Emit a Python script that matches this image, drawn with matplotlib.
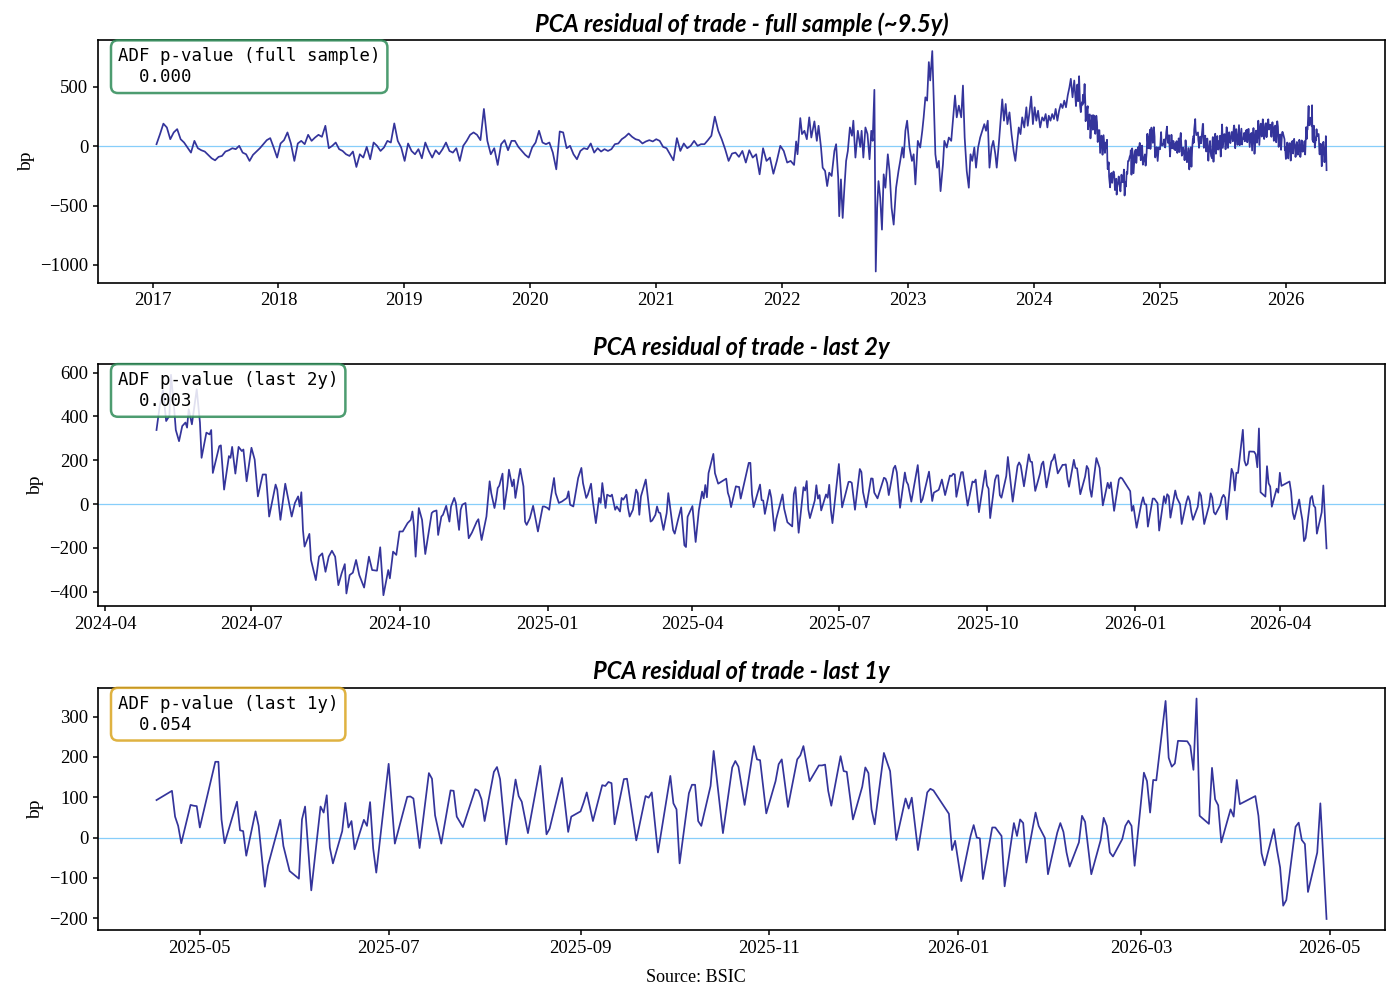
import numpy as np
import pandas as pd
import matplotlib
matplotlib.use("Agg")
import matplotlib.pyplot as plt
import matplotlib.dates as mdates

# ---------------- data (bp) ----------------

# 2017-01 .. 2022-01, one reading every 10 days
early_start = "2017-01-12"
early_vals = [
    17, 100, 190, 158, 59, 116, 144, 59, 31, -11,
    -54, 45, -17, -34, -45, -73, -102, -119, -90, -82,
    -45, -34, -17, -25, 3, -54, -68, -124, -73, -45,
    -17, 17, 51, 68, -11, -96, 23, 51, 116, 23,
    -124, 23, 45, 17, 96, 45, 73, 96, 79, 172,
    -17, 3, 31, -25, -40, -68, -82, -45, -175, -68,
    -96, -6, -110, 31, 3, -40, -11, 45, 31, 192,
    45, -11, -124, 23, -40, -68, -25, -102, 31, -40,
    -96, -34, -68, -25, 31, -40, -54, -17, -124, 3,
    45, 96,
    116, 96, 51, 314, 45, -68, -17, -158, 17, 51,
    -34, 45, 45, -6, -40, -73, -96, -11, 31, 130,
    31, 17, 31, -54, -195, 124, 116, -17, 3, -68,
    -110, -40, -17, -25, 23, -54, -17, -45, -25, -40,
    -25, 17, 23, 59, 79, 107, 79, 59, 51, 23,
    40, 51, 40, 59, 45, -6, -17, -68, -119, 68,
    -40, 23, -17, 3, 45, 3, 17, 17, 51, 88,
    249, 130, 59, -25, -124, -62, -54, -90, -40, -138,
    -34, -96, -68, -237, -17, -124, -96, -232, -124, 3,
    -40, -138,
]

# 2022-01 .. 2024-04, turning points
mid_dates = [
    "2022-01-26", "2022-02-05", "2022-02-11", "2022-02-15", "2022-02-23", "2022-02-28",
    "2022-03-07", "2022-03-14", "2022-03-21", "2022-03-27", "2022-04-05", "2022-04-12",
    "2022-04-17", "2022-04-24", "2022-04-29", "2022-05-06", "2022-05-12", "2022-05-18",
    "2022-05-25", "2022-06-02", "2022-06-07", "2022-06-13", "2022-06-16", "2022-06-21",
    "2022-06-26", "2022-07-01", "2022-07-06", "2022-07-11", "2022-07-17", "2022-07-23",
    "2022-07-27", "2022-08-02", "2022-08-09", "2022-08-16", "2022-08-20", "2022-08-25",
    "2022-08-31", "2022-09-06", "2022-09-12", "2022-09-17", "2022-09-21", "2022-09-26",
    "2022-09-30", "2022-10-04", "2022-10-08", "2022-10-13", "2022-10-18", "2022-10-23",
    "2022-10-28", "2022-11-04", "2022-11-09", "2022-11-15", "2022-11-21", "2022-11-28",
    "2022-12-05", "2022-12-10", "2022-12-16", "2022-12-20", "2022-12-25", "2022-12-30",
    "2023-01-06", "2023-01-13", "2023-01-18", "2023-01-23", "2023-01-30", "2023-02-06",
    "2023-02-12", "2023-02-16", "2023-02-21", "2023-02-26", "2023-03-03", "2023-03-07",
    "2023-03-13", "2023-03-17", "2023-03-22", "2023-03-27", "2023-04-01", "2023-04-06",
    "2023-04-13", "2023-04-17", "2023-04-24", "2023-04-30", "2023-05-07", "2023-05-12",
    "2023-05-18", "2023-05-23", "2023-05-29", "2023-06-05", "2023-06-10", "2023-06-15",
    "2023-06-21", "2023-06-27", "2023-07-02", "2023-07-07", "2023-07-13", "2023-07-18",
    "2023-07-24", "2023-07-30", "2023-08-05", "2023-08-11", "2023-08-16", "2023-08-21",
    "2023-08-26", "2023-09-01", "2023-09-06", "2023-09-12", "2023-09-16", "2023-09-22",
    "2023-09-28", "2023-10-02", "2023-10-07", "2023-10-12", "2023-10-17", "2023-10-23",
    "2023-10-29", "2023-11-04", "2023-11-09", "2023-11-13", "2023-11-19", "2023-11-24",
    "2023-11-29", "2023-12-05", "2023-12-11", "2023-12-15", "2023-12-20", "2023-12-25",
    "2023-12-30", "2024-01-04", "2024-01-09", "2024-01-14", "2024-01-20", "2024-01-26",
    "2024-01-31", "2024-02-05", "2024-02-10", "2024-02-14", "2024-02-19", "2024-02-24",
    "2024-02-29", "2024-03-05", "2024-03-10", "2024-03-15", "2024-03-20", "2024-03-25",
    "2024-03-30", "2024-04-04", "2024-04-09", "2024-04-14", "2024-04-18", "2024-04-23",
    "2024-04-28",
]
mid_vals = [
    -124, -158, 40, -68, 237, 102,
    130, 59, 243, 73, 209, 45,
    172, -6, -181, -209, -336, -223,
    -251, -40, 17, -266, -590, -280,
    -605, -350, -124, -40, 158, 88,
    215, -96, 130, -6, 130, -96,
    158, 102, -110, 130, 45, 475,
    -1056, -520, -294, -435, -703, -237,
    -350, -68, -209, -520, -661, -350,
    -209, -124, -11, -96, 130, 215,
    -11, -124, -68, -322, 45, -11,
    130, 243, 412, 384, 709, 554,
    802, 412, -68, -181, -124, -379,
    -153, 45, -11, 73, 45, 215,
    427, 243, 342, 243, 511, 73,
    -209, -350, -68, -124, -11, -181,
    -11, 73, 130, 186, 130, 215,
    -181, -11, 45, -68, -181, 17,
    243, 395, 215, 356, 186, 285,
    102, -40, -124, -11, 158, 102,
    243, 158, 328, 172, 285, 418,
    186, 328, 215, 299, 158, 243,
    215, 271, 158, 257, 215, 271,
    229, 314, 215, 299, 356, 322,
    384, 328, 427, 497, 568, 412,
    554,
]

# 2024-05 .. 2026-04, daily
recent_dates = [
    "2024-05-03", "2024-05-05", "2024-05-07", "2024-05-09", "2024-05-11", "2024-05-12",
    "2024-05-14", "2024-05-15", "2024-05-17", "2024-05-19", "2024-05-21", "2024-05-22",
    "2024-05-23", "2024-05-25", "2024-05-26", "2024-05-28", "2024-05-30", "2024-05-31",
    "2024-06-03", "2024-06-05", "2024-06-06", "2024-06-07", "2024-06-11", "2024-06-12",
    "2024-06-14", "2024-06-17", "2024-06-18", "2024-06-19", "2024-06-21", "2024-06-23",
    "2024-06-25", "2024-06-26", "2024-06-28", "2024-07-01", "2024-07-03", "2024-07-05",
    "2024-07-08", "2024-07-10", "2024-07-12", "2024-07-16", "2024-07-17", "2024-07-19",
    "2024-07-22", "2024-07-26", "2024-07-28", "2024-07-30", "2024-07-31", "2024-08-01",
    "2024-08-02", "2024-08-03", "2024-08-06", "2024-08-07", "2024-08-10", "2024-08-12",
    "2024-08-14", "2024-08-16", "2024-08-18", "2024-08-20", "2024-08-22", "2024-08-24",
    "2024-08-26", "2024-08-28", "2024-08-29", "2024-08-31", "2024-09-02", "2024-09-04",
    "2024-09-06", "2024-09-09", "2024-09-12", "2024-09-14", "2024-09-17", "2024-09-19",
    "2024-09-21", "2024-09-24", "2024-09-25", "2024-09-27", "2024-09-29", "2024-10-01",
    "2024-10-03", "2024-10-06", "2024-10-08", "2024-10-09", "2024-10-10", "2024-10-11",
    "2024-10-13", "2024-10-15", "2024-10-17", "2024-10-21", "2024-10-22", "2024-10-24",
    "2024-10-25", "2024-10-27", "2024-10-28", "2024-10-30", "2024-11-01", "2024-11-02",
    "2024-11-04", "2024-11-05", "2024-11-07", "2024-11-08", "2024-11-09", "2024-11-11",
    "2024-11-13", "2024-11-15", "2024-11-18", "2024-11-19", "2024-11-21", "2024-11-24",
    "2024-11-26", "2024-11-27", "2024-11-29", "2024-11-30", "2024-12-01", "2024-12-02",
    "2024-12-04", "2024-12-05", "2024-12-07", "2024-12-08", "2024-12-10", "2024-12-11",
    "2024-12-12", "2024-12-14", "2024-12-15", "2024-12-17", "2024-12-18", "2024-12-19",
    "2024-12-21", "2024-12-23", "2024-12-26", "2024-12-29", "2024-12-30", "2025-01-01",
    "2025-01-02", "2025-01-03", "2025-01-05", "2025-01-06", "2025-01-08", "2025-01-10",
    "2025-01-12", "2025-01-13", "2025-01-14", "2025-01-15", "2025-01-17", "2025-01-20",
    "2025-01-22", "2025-01-23", "2025-01-25", "2025-01-26", "2025-01-28", "2025-01-29",
    "2025-01-31", "2025-02-02", "2025-02-03", "2025-02-04", "2025-02-06", "2025-02-07",
    "2025-02-09", "2025-02-10", "2025-02-12", "2025-02-13", "2025-02-15", "2025-02-16",
    "2025-02-17", "2025-02-19", "2025-02-20", "2025-02-21", "2025-02-23", "2025-02-24",
    "2025-02-25", "2025-02-26", "2025-02-27", "2025-02-28", "2025-03-03", "2025-03-04",
    "2025-03-06", "2025-03-07", "2025-03-09", "2025-03-10", "2025-03-11", "2025-03-12",
    "2025-03-14", "2025-03-16", "2025-03-17", "2025-03-20", "2025-03-21", "2025-03-23",
    "2025-03-25", "2025-03-27", "2025-03-28", "2025-03-29", "2025-04-01", "2025-04-03",
    "2025-04-05", "2025-04-07", "2025-04-08", "2025-04-09", "2025-04-10", "2025-04-11",
    "2025-04-14", "2025-04-15",
    "2025-04-17", "2025-04-22", "2025-04-23", "2025-04-24", "2025-04-25", "2025-04-28",
    "2025-04-29", "2025-04-30", "2025-05-01", "2025-05-06", "2025-05-07", "2025-05-08",
    "2025-05-09", "2025-05-13", "2025-05-14", "2025-05-15", "2025-05-16", "2025-05-19",
    "2025-05-20", "2025-05-22", "2025-05-23", "2025-05-27", "2025-05-28", "2025-05-30",
    "2025-06-02", "2025-06-03", "2025-06-04", "2025-06-06", "2025-06-09", "2025-06-10",
    "2025-06-11", "2025-06-12", "2025-06-13", "2025-06-16", "2025-06-17", "2025-06-18",
    "2025-06-19", "2025-06-20", "2025-06-23", "2025-06-24", "2025-06-25", "2025-06-26",
    "2025-06-27", "2025-07-01", "2025-07-03", "2025-07-07", "2025-07-08", "2025-07-09",
    "2025-07-11", "2025-07-14", "2025-07-15", "2025-07-16", "2025-07-18", "2025-07-21",
    "2025-07-22", "2025-07-23", "2025-07-25", "2025-07-29", "2025-07-30", "2025-07-31",
    "2025-08-01", "2025-08-04", "2025-08-05", "2025-08-06", "2025-08-08", "2025-08-11",
    "2025-08-12", "2025-08-13", "2025-08-15", "2025-08-19", "2025-08-21", "2025-08-22",
    "2025-08-26", "2025-08-28", "2025-08-29", "2025-09-01", "2025-09-02", "2025-09-03",
    "2025-09-05", "2025-09-08", "2025-09-09", "2025-09-10", "2025-09-11", "2025-09-12",
    "2025-09-15", "2025-09-16", "2025-09-19", "2025-09-22", "2025-09-23", "2025-09-24",
    "2025-09-26", "2025-09-30", "2025-10-01", "2025-10-02", "2025-10-03", "2025-10-06",
    "2025-10-07", "2025-10-08", "2025-10-09", "2025-10-10", "2025-10-13", "2025-10-14",
    "2025-10-17", "2025-10-20", "2025-10-21", "2025-10-22", "2025-10-24", "2025-10-27",
    "2025-10-28", "2025-10-29", "2025-10-31", "2025-11-03", "2025-11-04", "2025-11-05",
    "2025-11-07", "2025-11-10", "2025-11-11", "2025-11-12", "2025-11-14", "2025-11-17",
    "2025-11-18", "2025-11-19", "2025-11-20", "2025-11-21", "2025-11-24", "2025-11-25",
    "2025-11-26", "2025-11-28", "2025-12-01", "2025-12-02", "2025-12-03", "2025-12-04",
    "2025-12-05", "2025-12-08", "2025-12-10", "2025-12-12", "2025-12-15", "2025-12-16",
    "2025-12-17", "2025-12-19", "2025-12-22", "2025-12-23", "2025-12-24", "2025-12-29",
    "2025-12-30", "2025-12-31", "2026-01-02", "2026-01-05", "2026-01-06", "2026-01-07",
    "2026-01-08", "2026-01-09", "2026-01-12", "2026-01-13", "2026-01-15", "2026-01-16",
    "2026-01-19", "2026-01-20", "2026-01-21", "2026-01-22", "2026-01-23", "2026-01-26",
    "2026-01-27", "2026-01-29", "2026-01-30", "2026-02-02", "2026-02-03", "2026-02-04",
    "2026-02-05", "2026-02-06", "2026-02-09", "2026-02-10", "2026-02-11", "2026-02-13",
    "2026-02-16", "2026-02-17", "2026-02-18", "2026-02-19", "2026-02-20", "2026-02-23",
    "2026-02-24", "2026-02-25", "2026-02-26", "2026-02-27", "2026-03-02", "2026-03-03",
    "2026-03-04", "2026-03-05", "2026-03-06", "2026-03-09", "2026-03-10", "2026-03-11",
    "2026-03-12", "2026-03-13", "2026-03-16", "2026-03-17", "2026-03-18", "2026-03-19",
    "2026-03-20", "2026-03-23", "2026-03-24", "2026-03-25", "2026-03-26", "2026-03-27",
    "2026-03-30", "2026-03-31", "2026-04-01", "2026-04-02", "2026-04-07", "2026-04-08",
    "2026-04-09", "2026-04-10", "2026-04-13", "2026-04-14", "2026-04-15", "2026-04-16",
    "2026-04-17", "2026-04-20", "2026-04-21", "2026-04-22", "2026-04-23", "2026-04-24",
    "2026-04-27", "2026-04-28", "2026-04-30",
]
recent_vals = [
    338, 448, 520, 379, 402, 590,
    433, 338, 287, 356, 372, 349,
    433, 364, 417, 524, 372, 211,
    326, 318, 338, 142, 264, 268,
    66, 219, 211, 261, 139, 261,
    242, 249, 104, 257, 203, 35,
    135, 135, -57, 89, 66, -72,
    93, -57, 5, 35, -11, 54,
    -118, -194, -136, -255, -347, -240,
    -225, -309, -240, -213, -240, -370,
    -317, -274, -408, -324, -313, -255,
    -324, -381, -240, -301, -304, -197,
    -416, -301, -339, -217, -232, -125,
    -125, -87, -72, -34, -102, -240,
    -18, -72, -228, -41, -34, -29,
    -141, -57, -49, -8, -80, -11,
    28, 5, -118, -26, -3, 5,
    -156, -130, -80, -69, -164, -57,
    104, 50, -18, 20, 73, 84,
    139, -23, 81, 157, 81, 112,
    28, 119, 161, 81, -80, -95,
    -64, -8, -125, -11, -11, -18,
    -26, 28, 119, 50, 5, 12,
    23, 28, 58, -3, -11, 119,
    165, 96, 28, 43, 93, 20,
    -87, 28, 5, 96, -18, 43,
    35, 43, -26, -11, -34, 28,
    20, 43, -18, -57, -26, 20,
    66, 50, -49, 35, 112, 50,
    -80, -75, -49, -11, -38, -41,
    -118, -41, 50, -119, -135, -73,
    -15, -188, -196, -58, -9, -173,
    -28, 57, 26, 87, 31, 141,
    229, 141,
    93, 116, 52, 29, -14, 81,
    79, 78, 25, 188, 188, 45,
    -14, 89, 18, 16, -45, 65,
    29, -122, -70, 44, -21, -83,
    -102, 45, 77, -131, 77, 62,
    105, -25, -64, 16, 86, 25,
    41, -29, 44, 29, 88, -27,
    -87, 183, -15, 101, 102, 97,
    -26, 160, 146, 55, -15, 117,
    116, 52, 26, 120, 116, 95,
    41, 163, 175, 145, -17, 144,
    103, 89, 11, 178, 8, 22,
    148, 14, 52, 65, 87, 112,
    41, 130, 128, 138, 135, 33,
    145, 146, -7, 103, 99, 112,
    -37, 153, 85, 70, -64, 110,
    131, 131, 41, 29, 128, 215,
    11, 174, 190, 176, 81, 227,
    194, 192, 60, 140, 182, 194,
    76, 194, 204, 227, 140, 179,
    179, 181, 116, 79, 202, 165,
    163, 45, 126, 174, 160, 70,
    33, 210, 165, -6, 97, 72,
    99, -31, 112, 121, 117, 59,
    -31, -8, -108, 4, 31, 0,
    -2, -103, 25, 25, 4, -121,
    36, 4, 45, 36, -62, 62,
    29, -1, -91, 12, 36, 14,
    -37, -72, -12, 54, 39, -91,
    -7, 49, 29, -37, -47, -4,
    29, 42, 29, -70, 161, 140,
    62, 143, 142, 339, 198, 176,
    184, 240, 239, 227, 168, 345,
    54, 34, 173, 95, 80, -12,
    70, 52, 143, 83, 103, 54,
    -39, -69, 21, -31, -74, -169,
    -155, 27, 37, -6, -16, -135,
    -37, 85, -202,
]

titles = [
    "PCA residual of trade - full sample (~9.5y)",
    "PCA residual of trade - last 2y",
    "PCA residual of trade - last 1y",
]
adf_labels = ["full sample", "last 2y", "last 1y"]
adf_pvalues = [0.000, 0.003, 0.054]
window_starts = [None, "2024-05-01", "2025-04-16"]

# ---------------- series ----------------
early = pd.Series(early_vals, index=pd.date_range(early_start, periods=len(early_vals), freq="10D"))
mid = pd.Series(mid_vals, index=pd.to_datetime(mid_dates))
recent = pd.Series(recent_vals, index=pd.to_datetime(recent_dates))
resid = pd.concat([early, mid, recent]).sort_index()

LINE = "#34349b"
ZERO = "lightskyblue"
SERIF = ["Liberation Serif", "DejaVu Serif"]

plt.rcParams["axes.linewidth"] = 1.2
plt.rcParams["xtick.major.width"] = 1.1
plt.rcParams["ytick.major.width"] = 1.1

fig, axes = plt.subplots(3, 1, figsize=(13.92, 9.88), dpi=100)
fig.subplots_adjust(left=0.0704, right=0.995, top=0.9595, bottom=0.0587, hspace=0.335)

locators = [mdates.YearLocator(), mdates.MonthLocator(bymonth=[1, 4, 7, 10]),
            mdates.MonthLocator(bymonth=[1, 3, 5, 7, 9, 11])]
formats = ["%Y", "%Y-%m", "%Y-%m"]

for i, ax in enumerate(axes):
    s = resid if window_starts[i] is None else resid[window_starts[i]:]
    ax.axhline(0, color=ZERO, lw=0.9, zorder=1)
    ax.plot(s.index, s.values, color=LINE, lw=1.25, zorder=2)

    ax.set_title(titles[i], fontsize=17, fontweight="bold", fontstyle="italic",
                 family="Lato", pad=6)
    ax.set_ylabel("bp", fontsize=14, family=SERIF)
    ax.xaxis.set_major_locator(locators[i])
    ax.xaxis.set_major_formatter(mdates.DateFormatter(formats[i]))
    for lab in ax.get_xticklabels() + ax.get_yticklabels():
        lab.set_fontfamily(SERIF)
        lab.set_fontsize(13.5)

    p = adf_pvalues[i]
    edge = "seagreen" if p < 0.05 else "goldenrod"
    ax.text(0.0155, 0.97, f"ADF p-value ({adf_labels[i]})\n  {p:.3f}",
            transform=ax.transAxes, va="top", ha="left",
            family="DejaVu Sans Mono", fontsize=12.5, zorder=5,
            bbox=dict(boxstyle="round,pad=0.4", fc="white", ec=edge, lw=1.8, alpha=0.85))

fig.text(0.5, 0.006, "Source: BSIC", ha="center", va="baseline", fontsize=13, family=SERIF)

fig.savefig("out.png", dpi=100)
